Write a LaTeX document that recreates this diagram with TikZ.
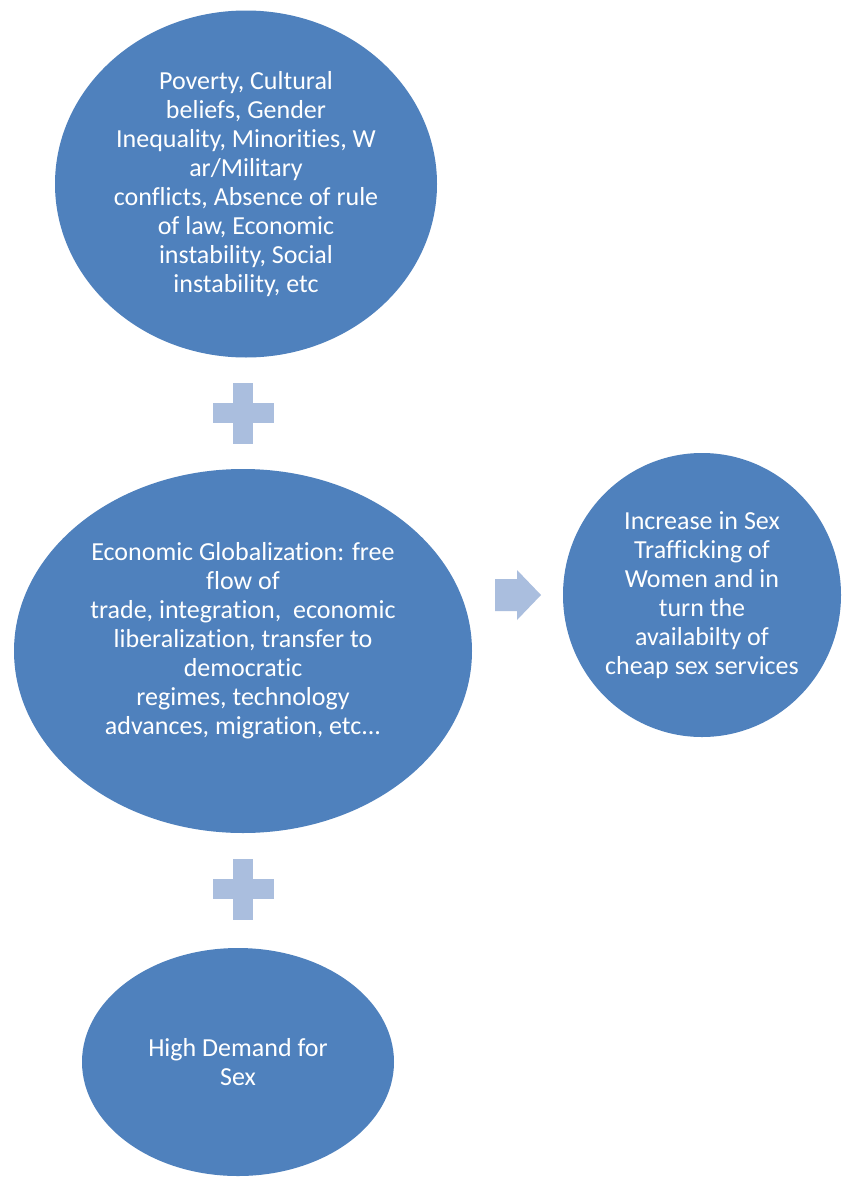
\documentclass[tikz,border=0pt]{standalone}
\usepackage{fontspec}
\setmainfont{Carlito}[Ligatures=NoCommon]
\usepackage{tikz}
\usetikzlibrary{shapes.geometric}
\definecolor{CauseBlue}{RGB}{79,129,189}
\definecolor{CauseLight}{RGB}{170,190,222}

\begin{document}
\begin{tikzpicture}[x=1pt,y=-1pt,cause/.style n args={2}{ellipse,fill=CauseBlue,text=white,inner sep=0pt,align=center,minimum width=#1pt,minimum height=#2pt,font=\fontsize{26}{29}\selectfont},sign/.style={fill=CauseLight}]
\fill[white] (0,0) rectangle (841,1178);
\useasboundingbox (0,0) rectangle (841,1178);
% causes
   \node[cause={382}{347}](roots) at(246,184) {Poverty, Cultural\\beliefs, Gender\\Inequality, Minorities, W\\ar/Military\\conflicts, Absence of rule\\of law, Economic\\instability, Social\\instability, etc};
   \node[cause={458}{364}](glob) at(243,651) {Economic Globalization: free\\flow of\\trade, integration,\ \ economic\\liberalization, transfer to\\democratic\\regimes, technology\\advances, migration, etc...\rule[-26pt]{0pt}{26pt}};
   \node[cause={312}{228}](demand) at(238,1062) {High Demand for\\Sex};
% result
   \node[cause={278}{284}](traffic) at(702,595) {Increase in Sex\\Trafficking of\\Women and in\\turn the\\availabilty of\\cheap sex services};
% plus signs
\foreach \y in {413,889} {
   \fill[sign] (212.5,\y-10) rectangle (273.5,\y+10);
   \fill[sign] (233,\y-30.5) rectangle (253,\y+30.5);
}
% block arrow
\fill[sign] (495,579) -- (517,579) -- (517,570) -- (541,595) -- (517,620) -- (517,611) -- (495,611) -- cycle;
\end{tikzpicture}
\end{document}
